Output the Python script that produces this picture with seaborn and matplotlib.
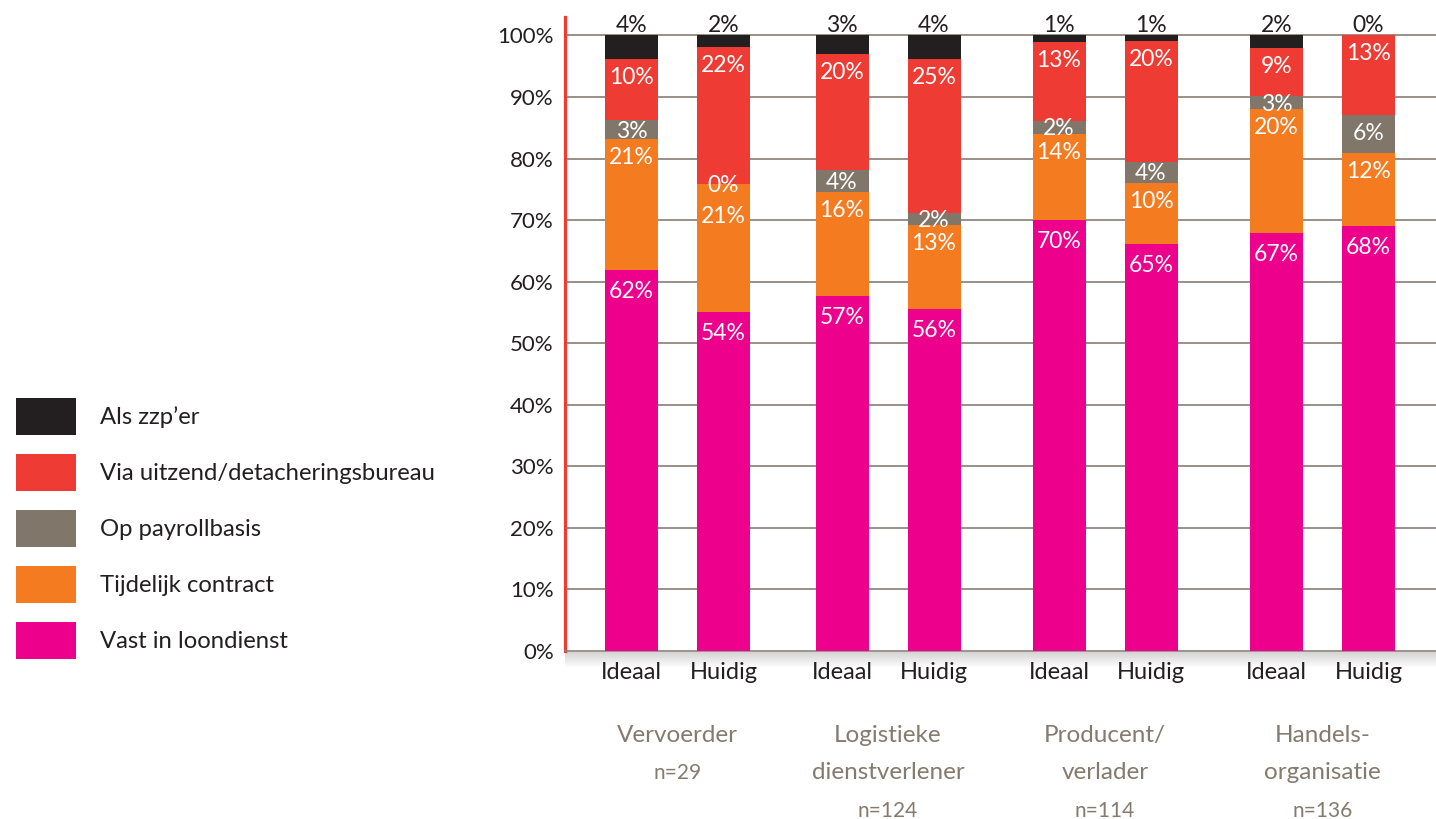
import numpy as np
import matplotlib
matplotlib.use("Agg")
import matplotlib.pyplot as plt
from matplotlib.patches import Patch
from matplotlib.colors import LinearSegmentedColormap
import seaborn as sns

# ---------------- data ----------------
groups = ["Vervoerder", "Logistieke\ndienstverlener", "Producent/\nverlader", "Handels-\norganisatie"]
group_n = ["n=29", "n=124", "n=114", "n=136"]
bar_kinds = ["Ideaal", "Huidig"]

series = ["Vast in loondienst", "Tijdelijk contract", "Op payrollbasis",
          "Via uitzend/detacheringsbureau", "Als zzp\u2019er"]

# segment sizes (bar order: V-Ideaal, V-Huidig, L-Ideaal, L-Huidig, P-Ideaal, P-Huidig, H-Ideaal, H-Huidig)
vast      = [61.9, 55.0, 57.6, 55.5, 70.0, 66.2, 67.9, 69.0]
tijdelijk = [21.2, 20.8, 16.9, 13.7, 14.0,  9.9, 20.1, 11.9]
payroll   = [ 3.2,  0.0,  3.6,  1.9,  2.1,  3.3,  2.2,  6.1]
uitzend   = [ 9.8, 22.3, 18.9, 25.0, 12.8, 19.7,  7.7, 13.0]
zzp       = [ 3.9,  1.9,  3.0,  3.9,  1.1,  0.9,  2.1,  0.0]

# printed labels
lab_vast      = ["62%", "54%", "57%", "56%", "70%", "65%", "67%", "68%"]
lab_tijdelijk = ["21%", "21%", "16%", "13%", "14%", "10%", "20%", "12%"]
lab_payroll   = ["3%", "0%", "4%", "2%", "2%", "4%", "3%", "6%"]
lab_uitzend   = ["10%", "22%", "20%", "25%", "13%", "20%", "9%", "13%"]
lab_zzp       = ["4%", "2%", "3%", "4%", "1%", "1%", "2%", "0%"]

yticks = list(range(0, 101, 10))

# ---------------- style ----------------
sns.set_style("white")
plt.rcParams["font.family"] = ["Lato", "DejaVu Sans"]

colors = ["#ec008c", "#f47b20", "#81766a", "#ee3b33", "#231f20"]
values = [vast, tijdelijk, payroll, uitzend, zzp]
labels = [lab_vast, lab_tijdelijk, lab_payroll, lab_uitzend, lab_zzp]
DARK = "#231f20"
GREY_TXT = "#857a6e"
GRID = "#7d7368"

W, H = 1436, 819
fig = plt.figure(figsize=(W / 100, H / 100), dpi=100)

ax_left, ax_right, ax_top, ax_bot = 565, 1436, 17, 651
ax = fig.add_axes([ax_left / W, (H - ax_bot) / H, (ax_right - ax_left) / W, (ax_bot - ax_top) / H])
ax.set_zorder(2)
ax.patch.set_alpha(0)

# layout of bars (x in pixel-like units of the axes)
group_centers = [112.5, 323, 540, 757.5]
half_gap = 46
bar_w = 53
xpos = []
for gc in group_centers:
    xpos += [gc - half_gap, gc + half_gap]
xpos = np.array(xpos)

ymax = 103.0
px = (ax_bot - ax_top) / ymax  # pixels per percent

# stacked bars
bottom = np.zeros(len(xpos))
tops = []
for vals, col in zip(values, colors):
    v = np.array(vals)
    ax.bar(xpos, v, bottom=bottom, width=bar_w, color=col, edgecolor="none", zorder=3)
    tops.append(bottom + v)
    bottom = bottom + v

# value labels
nser = len(series)
lab_fs = 16.5
for si in range(nser):
    for bi in range(len(xpos)):
        top = tops[si][bi]
        h = values[si][bi]
        if si == nser - 1:
            ax.text(xpos[bi], top + 3 / px, labels[si][bi], ha="center", va="baseline",
                    color=DARK, fontsize=lab_fs, zorder=5)
            continue
        off = 20 if si == 0 else 17
        off = min(off, h * px / 2)
        if si + 1 < nser - 1 and values[si + 1][bi] == 0:
            off += 14
        ycenter = top - off / px
        ax.text(xpos[bi], ycenter - 8 / px, labels[si][bi], ha="center", va="baseline",
                color="white", fontsize=lab_fs, zorder=5)

# axes formatting
ax.set_xlim(0, ax_right - ax_left)
ax.set_ylim(0, ymax)
ax.set_yticks(yticks)
ax.set_yticklabels([f"{t}%" for t in yticks], fontsize=16, color=DARK)
ax.set_xticks(xpos)
ax.set_xticklabels(bar_kinds * len(groups), fontsize=17, color=DARK)
ax.tick_params(axis="y", length=0, pad=8)
ax.tick_params(axis="x", length=0, pad=8)
for t in yticks[1:]:
    ax.axhline(t, color=GRID, lw=1.1, zorder=1)
for s in ["top", "right"]:
    ax.spines[s].set_visible(False)
ax.spines["left"].set_color("#ee3b33")
ax.spines["left"].set_linewidth(2.3)
ax.spines["bottom"].set_color("#8a8078")
ax.spines["bottom"].set_linewidth(1.2)

# group labels below
def yfrac(ypix):
    return (ax_bot - ypix) / (ax_bot - ax_top)

trans = ax.get_xaxis_transform()
baselines = [742, 779, 817]
for gc, name, n in zip(group_centers, groups, group_n):
    lines = name.split("\n")
    for i, ln in enumerate(lines):
        ax.text(gc, yfrac(baselines[i]), ln, transform=trans, ha="center", va="baseline",
                fontsize=17.5, color=GREY_TXT, clip_on=False)
    ax.text(gc, yfrac(baselines[len(lines)]), n, transform=trans, ha="center", va="baseline",
            fontsize=15, color=GREY_TXT, clip_on=False)

# shadow under the baseline
sh = fig.add_axes([ax_left / W, (H - 668) / H, (ax_right - ax_left) / W, 16 / H])
sh.set_zorder(0)
cmap = LinearSegmentedColormap.from_list("sh", ["#d4d4d4", "#ffffff"])
sh.imshow(np.linspace(0, 1, 50).reshape(-1, 1), aspect="auto", cmap=cmap, extent=(0, 1, 1, 0))
sh.axis("off")

# legend
fs = 17.2
fs_px = fs * 100 / 72
box_h = 37
hh = (box_h / fs_px - 0.245) / 0.65
handles = [Patch(facecolor=c, edgecolor="none", label=s) for s, c in zip(series, colors)][::-1]
fig.legend(handles=handles, loc="upper left", bbox_to_anchor=(16 / W, 1 - 398 / H),
           frameon=False, borderpad=0, borderaxespad=0, fontsize=fs,
           handlelength=60 / fs_px, handleheight=hh, handletextpad=24 / fs_px,
           labelspacing=19 / fs_px, labelcolor=DARK)

fig.savefig("out.png", dpi=100)
